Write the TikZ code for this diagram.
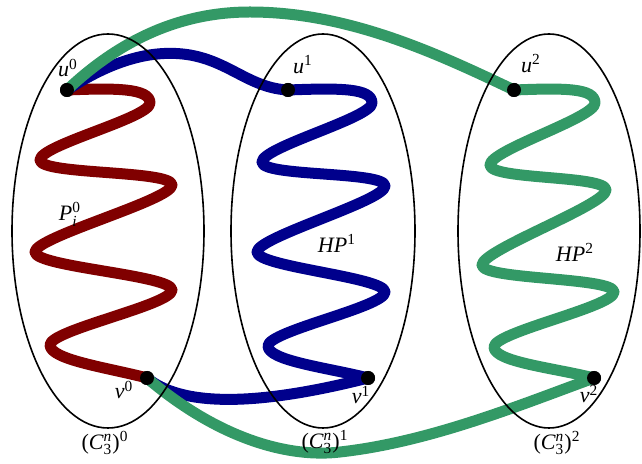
\documentclass[tikz,border=0pt]{standalone}
\usepackage{amsmath}
\usepackage{fontspec}
\setmainfont{Liberation Serif}
\usepackage{tikz}
\usetikzlibrary{positioning, calc}
\definecolor{hpred}{RGB}{128,0,0}
\definecolor{hpblue}{RGB}{0,0,140}
\definecolor{hpgreen}{RGB}{51,153,102}
\tikzset{
    band/.style = {line width=5.5pt, line cap=round, line join=round},
    redband/.style = {band, draw=hpred},
    blueband/.style = {band, draw=hpblue},
    greenband/.style = {band, draw=hpgreen},
    cell/.style = {draw=black, line width=0.8pt},
    dot/.style = {circle, fill=black, inner sep=0pt, minimum size=7pt},
    lbl/.style = {inner sep=0pt, font=\fontsize{11}{13}\selectfont}
}

\begin{document}
\begin{tikzpicture}[x=0.5pt, y=-0.5pt]
    \useasboundingbox (0,0) rectangle (642,464);
    % Vertices
    \node [dot] (u0) at (67,90) {};
    \node [dot] (v0) at (147,378) {};
    \node [dot] (u1) at (288,90) {};
    \node [dot] (v1) at (368,378) {};
    \node [dot] (u2) at (514,90) {};
    \node [dot] (v2) at (594,378) {};

    % Hamiltonian paths
    \draw [redband] (u0.center) .. controls (115,88) and (150,88) .. (150,103)
        .. controls (150,118) and (40,145) .. (40,160)
        .. controls (40,175) and (172,170) .. (172,185)
        .. controls (172,200) and (35,237) .. (35,252)
        .. controls (35,267) and (172,275) .. (172,290)
        .. controls (172,305) and (50,330) .. (50,345)
        .. controls (50,360) and (110,368) .. (v0.center);
    \draw [blueband] (u1.center) .. controls (340,88) and (372,88) .. (372,103)
        .. controls (372,118) and (262,147) .. (262,162)
        .. controls (262,177) and (385,171) .. (385,186)
        .. controls (385,201) and (257,237) .. (257,252)
        .. controls (257,267) and (385,277) .. (385,292)
        .. controls (385,307) and (268,331) .. (268,346)
        .. controls (268,361) and (330,368) .. (v1.center);
    \draw [blueband] (u0.center) .. controls (120,55) and (160,50) .. (190,55)
        .. controls (230,62) and (250,88) .. (u1.center);
    \draw [blueband] (v0.center) .. controls (180,405) and (250,408) .. (v1.center);
    \draw [greenband] (u2.center) .. controls (565,88) and (595,88) .. (595,103)
        .. controls (595,118) and (490,150) .. (490,165)
        .. controls (490,180) and (606,175) .. (606,190)
        .. controls (606,205) and (482,250) .. (482,265)
        .. controls (482,280) and (614,277) .. (614,292)
        .. controls (614,307) and (494,332) .. (494,347)
        .. controls (494,362) and (555,368) .. (v2.center);
    \draw [greenband] (u0.center) .. controls (120,40) and (180,12) .. (250,12)
        .. controls (350,12) and (440,55) .. (u2.center);
    \draw [greenband] (v0.center) .. controls (220,440) and (290,458) .. (340,452)
        .. controls (430,442) and (520,405) .. (v2.center);

    % Copies of C_3^n
    \draw [cell] (108,231) ellipse [x radius=48pt, y radius=98.5pt];
    \draw [cell] (323,231) ellipse [x radius=46pt, y radius=98.5pt];
    \draw [cell] (549,231) ellipse [x radius=45.5pt, y radius=98.5pt];

    % redraw dots on top
    \foreach \p in {u0,v0,u1,v1,u2,v2} \fill (\p) circle (3.5pt);

    % Labels
    \node [lbl] (lu0) at (68,68) {\textit{u}$^{\text{0}}$};
    \node [lbl] (lu1) at (303,65) {\textit{u}$^{\text{1}}$};
    \node [lbl] (lu2) at (531,64) {\textit{u}$^{\text{2}}$};
    \node [lbl] (lv0) at (124,390) {\textit{v}$^{\text{0}}$};
    \node [lbl] (lv1) at (361,395) {\textit{v}$^{\text{1}}$};
    \node [lbl] (lv2) at (589,394) {\textit{v}$^{\text{2}}$};
    \node [lbl] (lp0) at (70,214) {\textit{P}$_{\text{\itshape i}}^{\text{0}}$};
    \node [lbl] (lhp1) at (337,243) {\textit{HP}$^{\text{1}}$};
    \node [lbl] (lhp2) at (575,252) {\textit{HP}$^{\text{2}}$};
    \node [lbl] (lc0) at (105,443) {(\textit{C}$_{\text{3}}^{\text{\itshape n}}$)$^{\text{0}}$};
    \node [lbl] (lc1) at (325,442) {(\textit{C}$_{\text{3}}^{\text{\itshape n}}$)$^{\text{1}}$};
    \node [lbl] (lc2) at (557,443) {(\textit{C}$_{\text{3}}^{\text{\itshape n}}$)$^{\text{2}}$};
\end{tikzpicture}
\end{document}
